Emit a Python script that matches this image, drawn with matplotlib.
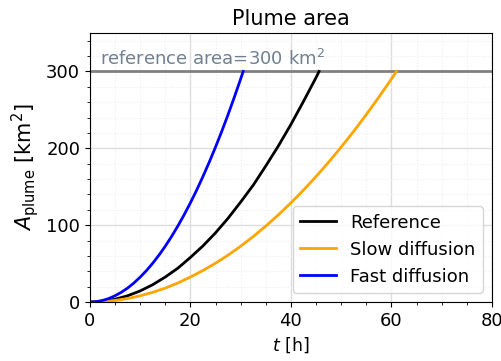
import numpy as np
import matplotlib.pyplot as plt
from matplotlib.ticker import MultipleLocator

# values (t in h, A in km^2)
t_ref = [0, 2.5, 5, 7.5, 10, 12.5, 15, 17.5, 20, 22.5, 25, 27.5, 30,
         32.5, 35, 37.5, 40, 42.5, 45, 45.6]
a_ref = [0, 0.9, 3.6, 8.1, 14.4, 22.5, 32.5, 44, 58, 73, 90, 109, 130,
         152, 177, 203, 231, 261, 292, 300]

t_slow = [0, 2.5, 5, 7.5, 10, 12.5, 15, 17.5, 20, 22.5, 25, 27.5, 30,
          32.5, 35, 37.5, 40, 42.5, 45, 47.5, 50, 52.5, 55, 57.5, 60, 61]
a_slow = [0, 0.5, 2.0, 4.5, 8.1, 12.6, 18.1, 24.7, 32.5, 41, 50.5, 61, 72.6,
          85.2, 98.8, 113.4, 129, 145.6, 163.3, 181.9, 201.6, 222.2, 243.9,
          266.6, 290.2, 300]

t_fast = [0, 1.25, 2.5, 3.75, 5, 6.25, 7.5, 8.75, 10, 11.25, 12.5, 13.75,
          15, 16.25, 17.5, 18.75, 20, 21.25, 22.5, 23.75, 25, 26.25, 27.5,
          28.75, 30, 30.5]
a_fast = [0, 0.5, 2.0, 4.5, 8.1, 12.6, 18.1, 24.7, 32.3, 40.8, 50.4, 61.0,
          72.6, 85.2, 98.8, 113.4, 129, 145.6, 163.3, 181.9, 201.6, 222.2,
          243.9, 266.6, 290.2, 300]

area_limit = 300

fig = plt.figure(figsize=(5.02, 3.61), dpi=100)
ax = fig.add_axes([0.179, 0.1634, 0.801, 0.7452])

ax.axhline(area_limit, color='gray', lw=2, zorder=1)
ax.text(2, area_limit + 3, 'reference area=%d km$^2$' % area_limit,
        color='slategray', fontsize=13, va='bottom')

ax.plot(t_ref, a_ref, color='black', lw=2, label='Reference')
ax.plot(t_slow, a_slow, color='orange', lw=2, label='Slow diffusion')
ax.plot(t_fast, a_fast, color='blue', lw=2, label='Fast diffusion')

ax.set_xlim(0, 80)
ax.set_ylim(0, 350)
ax.xaxis.set_major_locator(MultipleLocator(20))
ax.xaxis.set_minor_locator(MultipleLocator(5))
ax.yaxis.set_major_locator(MultipleLocator(100))
ax.yaxis.set_minor_locator(MultipleLocator(20))
ax.grid(which='major', color='#dddddd', lw=1)
ax.grid(which='minor', color='#eeeeee', lw=0.8, ls=':')
ax.set_axisbelow(True)
ax.tick_params(labelsize=13)

ax.set_xlabel('$t$ [h]', fontsize=12.5)
ax.set_ylabel(r'$A_\mathrm{plume}$ [km$^2$]', fontsize=15)
ax.set_title('Plume area', fontsize=15)
ax.legend(loc='lower right', fontsize=13)

plt.savefig('out.png')
